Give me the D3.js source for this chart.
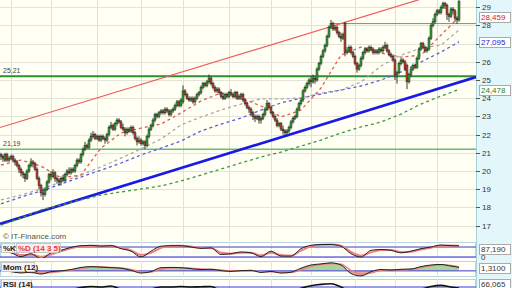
<!DOCTYPE html>
<html>
<head>
<meta charset="utf-8">
<script src="https://cdn.jsdelivr.net/npm/d3@7"></script>
<style>
  body { margin: 0; background: #fff; }
  svg { display: block; font-family: "Liberation Sans", Arial, sans-serif; }
</style>
</head>
<body>
<svg id="chart" width="512" height="288"></svg>
<script>
// ---------- daily candles (230 sessions) ----------
const opens = [
  20.9,20.8,20.6,20.9,20.6,20.7,20.8,20.6,20.5,20.3, 20.1,19.9,19.8,19.6,20.0,20.3,20.5,20.4,20.1,19.6,
  19.2,18.8,18.7,19.0,19.4,19.8,19.7,19.9,19.6,19.5, 19.4,19.6,19.5,19.8,20.0,19.9,20.1,20.0,20.3,20.6,
  20.5,20.9,21.2,21.4,21.3,21.7,21.9,22.0,21.8,21.9, 21.7,21.9,21.8,21.7,22.0,22.4,22.5,22.3,22.6,22.8,
  22.7,22.4,22.3,22.1,22.3,22.2,22.4,22.1,21.8,21.6, 21.7,21.5,21.6,21.4,21.9,22.3,22.5,22.8,23.1,23.0,
  23.2,23.3,23.2,23.4,23.3,23.1,23.3,23.4,23.6,23.8, 23.6,23.8,24.4,24.2,24.0,23.9,24.0,23.8,24.0,24.2,
  24.3,24.6,24.8,24.7,24.9,25.1,24.8,24.6,24.4,24.5, 24.3,24.1,24.0,24.2,24.1,24.3,24.2,24.1,24.3,24.0,
  24.1,24.2,23.9,23.7,23.5,23.4,23.2,23.0,22.9,23.0, 22.8,22.9,23.1,23.4,23.7,23.5,23.2,23.0,22.8,22.5,
  22.6,22.3,22.2,22.1,22.2,22.4,22.7,22.9,23.0,23.4, 23.7,23.9,24.4,24.6,24.8,25.0,24.9,25.1,25.0,25.6,
  25.9,26.3,26.6,26.9,27.4,27.9,28.1,27.8,27.9,27.6, 27.4,27.3,28.1,26.5,26.6,26.8,26.5,26.3,25.9,25.6,
  25.8,26.2,26.5,26.7,26.6,26.8,26.7,26.5,26.6,26.5, 26.7,26.6,26.8,26.9,26.6,26.4,26.3,26.1,25.3,25.4,
  25.9,26.1,26.0,25.8,24.9,25.3,25.6,25.8,25.7,26.2, 26.7,27.0,26.8,26.6,26.7,27.3,28.0,28.2,28.6,28.8,
  28.7,29.0,29.2,29.1,28.6,28.5,28.9,28.8,28.4,28.3
];
const highs = [
  21.0,20.9,21.0,21.0,20.8,20.9,20.9,20.7,20.6,20.4, 20.2,20.0,19.9,20.1,20.4,20.7,20.6,20.5,20.2,19.7,
  19.3,19.0,19.1,19.5,19.9,20.0,20.1,20.0,19.7,19.6, 19.7,19.8,19.9,20.1,20.2,20.2,20.2,20.4,20.7,20.7,
  21.0,21.3,21.6,21.5,21.8,22.1,22.2,22.1,22.0,22.0, 22.0,22.0,21.9,22.1,22.5,22.7,22.6,22.7,22.9,22.9,
  22.8,22.6,22.4,22.4,22.4,22.5,22.5,22.2,21.9,21.9, 21.8,21.7,21.7,22.0,22.4,22.6,22.9,23.2,23.2,23.3,
  23.4,23.4,23.5,23.5,23.4,23.4,23.5,23.7,23.9,23.9, 24.0,24.7,24.5,24.3,24.1,24.1,24.1,24.1,24.3,24.4,
  24.7,24.9,24.9,25.0,25.3,25.2,24.9,24.7,24.6,24.6, 24.4,24.3,24.3,24.3,24.4,24.5,24.3,24.4,24.4,24.2,
  24.3,24.3,24.0,23.8,23.6,23.5,23.3,23.1,23.1,23.1, 23.0,23.2,23.5,23.9,23.8,23.6,23.3,23.1,22.9,22.7,
  22.7,22.5,22.3,22.3,22.5,22.8,23.0,23.1,23.5,23.8, 24.0,24.5,24.7,24.9,25.1,25.2,25.3,25.2,25.7,26.0,
  26.4,26.7,27.0,27.5,28.0,28.3,28.2,28.0,28.0,27.7, 27.6,27.6,28.2,26.8,26.9,26.9,26.6,26.4,26.0,25.9,
  26.3,26.6,26.8,26.8,26.9,26.9,26.8,26.7,26.7,26.8, 26.8,26.9,27.1,27.0,26.7,26.5,26.4,26.2,25.5,26.0,
  26.2,26.2,26.1,25.9,25.4,25.7,25.9,25.9,26.3,26.8, 27.1,27.1,26.9,26.8,27.4,28.1,28.4,28.7,28.9,28.9,
  29.1,29.3,29.3,29.2,28.7,29.0,29.0,28.9,28.5,29.4
];
const lows = [
  20.6,20.5,20.5,20.5,20.5,20.6,20.5,20.3,20.2,19.9, 19.7,19.6,19.4,19.5,19.9,20.2,20.2,20.0,19.5,19.0,
  18.6,18.4,18.6,18.9,19.3,19.5,19.6,19.4,19.3,19.2, 19.2,19.4,19.4,19.7,19.8,19.8,19.9,19.9,20.2,20.4,
  20.4,20.8,21.1,21.2,21.2,21.6,21.8,21.7,21.7,21.6, 21.6,21.7,21.5,21.6,21.9,22.3,22.2,22.2,22.5,22.6,
  22.3,22.2,21.9,22.0,22.1,22.1,22.0,21.7,21.4,21.5, 21.4,21.4,21.2,21.3,21.8,22.2,22.4,22.7,22.9,22.9,
  23.1,23.1,23.1,23.2,23.0,23.0,23.2,23.3,23.5,23.5, 23.5,23.7,24.1,23.9,23.8,23.8,23.7,23.7,23.9,24.1,
  24.2,24.5,24.6,24.6,24.8,24.7,24.5,24.3,24.3,24.2, 24.0,23.9,23.9,24.0,24.0,24.1,24.0,24.0,23.9,23.9,
  23.9,23.8,23.6,23.4,23.2,23.0,22.8,22.7,22.8,22.6, 22.6,22.8,23.0,23.3,23.4,23.1,22.9,22.7,22.4,22.4,
  22.2,22.0,21.9,22.0,22.1,22.3,22.6,22.8,22.9,23.3, 23.6,23.8,24.3,24.5,24.7,24.6,24.8,24.8,24.9,25.5,
  25.8,26.2,26.5,26.8,27.3,27.8,27.7,27.7,27.5,27.3, 27.1,27.2,26.3,26.4,26.5,26.4,26.2,25.8,25.4,25.5,
  25.7,26.1,26.4,26.5,26.5,26.6,26.4,26.4,26.4,26.4, 26.5,26.5,26.7,26.5,26.3,26.2,26.0,25.0,24.8,25.3,
  25.8,25.9,25.5,24.5,24.8,25.2,25.5,25.6,25.6,26.1, 26.6,26.7,26.5,26.5,26.6,27.2,27.9,28.1,28.5,28.6,
  28.6,28.9,28.9,28.3,28.2,28.4,28.6,28.2,28.1,28.2
];
const closes = [
  20.8,20.7,20.9,20.6,20.7,20.8,20.6,20.5,20.3,20.1, 19.9,19.8,19.6,20.0,20.3,20.5,20.4,20.1,19.6,19.2,
  18.8,18.7,19.0,19.4,19.8,19.7,19.9,19.6,19.5,19.4, 19.6,19.5,19.8,20.0,19.9,20.1,20.0,20.3,20.6,20.5,
  20.9,21.2,21.4,21.3,21.7,21.9,22.0,21.8,21.9,21.7, 21.9,21.8,21.7,22.0,22.4,22.5,22.3,22.6,22.8,22.7,
  22.4,22.3,22.1,22.3,22.2,22.4,22.1,21.8,21.6,21.7, 21.5,21.6,21.4,21.9,22.3,22.5,22.8,23.1,23.0,23.2,
  23.3,23.2,23.4,23.3,23.1,23.3,23.4,23.6,23.8,23.6, 23.9,24.4,24.2,24.0,23.9,24.0,23.8,24.0,24.2,24.3,
  24.6,24.8,24.7,24.9,25.1,24.8,24.6,24.4,24.5,24.3, 24.1,24.0,24.2,24.1,24.3,24.2,24.1,24.3,24.0,24.1,
  24.2,23.9,23.7,23.5,23.4,23.2,23.0,22.9,23.0,22.8, 22.9,23.1,23.4,23.7,23.5,23.2,23.0,22.8,22.5,22.6,
  22.3,22.2,22.1,22.2,22.4,22.7,22.9,23.0,23.4,23.7, 23.9,24.4,24.6,24.8,25.0,24.9,25.1,25.0,25.6,25.9,
  26.3,26.6,26.9,27.4,27.9,28.1,27.8,27.9,27.6,27.4, 27.3,27.5,26.5,26.6,26.8,26.5,26.3,25.9,25.6,25.8,
  26.2,26.5,26.7,26.6,26.8,26.7,26.5,26.6,26.5,26.7, 26.6,26.8,26.9,26.6,26.4,26.3,26.1,25.3,25.4,25.9,
  26.1,26.0,25.6,24.9,25.3,25.6,25.8,25.7,26.2,26.7, 27.0,26.8,26.6,26.7,27.3,28.0,28.2,28.6,28.8,28.7,
  29.0,29.2,29.1,28.6,28.5,28.9,28.8,28.4,28.3,29.3
];

// session index of each month start (vertical grid)
const monthStarts = [5, 25, 48, 70, 91, 114, 135, 155, 177, 197, 218];

// moving averages, sampled every 10 sessions + last session
const maIdx = d3.range(0, 230, 10).concat([229]);
const maRed   = [20.33,20.60,20.27,19.62,19.78,21.26,22.09,22.36,22.58,23.19,23.85,24.29,24.01,23.57,22.97,23.35,24.56,26.37,26.81,26.48,26.26,26.37,27.47,28.459];
const maGrey  = [18.41,18.68,19.01,19.40,19.78,20.22,20.71,21.21,21.76,22.53,22.97,23.35,23.68,23.96,23.96,24.01,24.29,24.45,24.89,25.77,26.37,26.76,26.92,27.75];
const maBlue  = [18.19,18.57,18.90,19.29,19.67,20.05,20.44,20.88,21.26,21.65,22.20,22.58,22.91,23.35,23.74,24.01,24.23,24.45,24.67,25.00,25.44,25.99,26.54,27.095];
const maGreen = [17.03,17.42,17.86,18.13,18.41,18.68,18.85,19.01,19.18,19.45,19.78,20.11,20.44,20.77,21.04,21.37,21.70,22.09,22.42,22.69,23.13,23.68,24.12,24.478];

// trend lines and horizontal levels
const redTrend  = [[-0.5, 22.39], [237.5, 30.37]];
const blueTrend = [[-0.5, 17.09], [237.5, 25.16]];
const levels = [25.21, 21.19];
const resistance = {from: 165, value: 28.1};

// oscillators, sampled every 5 sessions + last session
const oscIdx = d3.range(0, 230, 5).concat([229]);
const stochK = [55,45,22,40,10,45,60,78,88,90,85,88,70,55,20,55,85,88,88,80,72,75,35,40,50,45,22,55,25,25,70,90,95,95,85,40,20,60,65,60,45,55,70,80,92,88,87.19];
const stochD = [58,50,32,33,22,35,55,72,85,88,87,87,75,60,32,45,75,87,88,83,75,74,45,40,45,45,30,45,32,28,58,85,93,95,88,50,28,48,62,62,50,52,65,76,88,89,88];
const mom    = [0.2,-0.3,-0.8,-0.5,-1.2,-0.3,0.0,0.5,1.3,1.6,1.4,1.2,1.0,0.2,-0.8,-0.3,1.2,1.3,1.2,0.8,0.5,0.6,0.1,-0.2,0.1,0.2,-0.6,-0.2,-0.8,-0.5,1.0,2.2,2.6,3.0,2.2,-1.0,-1.9,-0.3,0.5,0.3,0.6,0.7,1.6,2.2,2.4,1.8,1.31];
const momSig = [0.3,0.0,-0.5,-0.6,-0.9,-0.6,-0.2,0.3,1.0,1.4,1.5,1.3,1.1,0.5,-0.3,-0.4,0.7,1.2,1.2,1.0,0.7,0.6,0.3,0.0,0.0,0.1,-0.3,-0.3,-0.6,-0.6,0.4,1.7,2.4,2.8,2.5,0.2,-1.3,-0.8,0.2,0.4,0.4,0.6,1.3,1.9,2.3,2.0,1.5];
const rsi    = [50,48,40,48,35,50,52,60,68,72,70,74,62,60,48,62,70,70,72,70,71,72,58,60,55,45,40,52,38,45,65,75,80,82,70,52,48,58,60,58,48,55,62,72,76,70,66.065];

const priceTicks = d3.range(17, 30);

// ---------- layout ----------
const plotW = 476;
const mainH = 241;
const svg = d3.select('#chart');
const fmt = v => d3.format('.3f')(v).replace('.', ',');

const x = d3.scaleLinear().domain([-0.5, 237.5]).range([0, plotW]);
const y = d3.scaleLinear().domain([16.209, 29.396]).range([240, 0]);

// last values shown in boxes on the price axis
const maBoxes = [
  [maRed[maRed.length - 1], '#cc2222'],
  [maBlue[maBlue.length - 1], '#2222cc'],
  [maGreen[maGreen.length - 1], '#228822']
];

// right axis column
svg.append('rect').attr('x', plotW).attr('y', 0).attr('width', 512 - plotW).attr('height', 288).attr('fill', '#e3f7fb');

// main panel
svg.append('defs').append('clipPath').attr('id', 'clipMain')
  .append('rect').attr('x', 0).attr('y', 0).attr('width', plotW).attr('height', mainH);
svg.append('rect').attr('x', 0).attr('y', 0).attr('width', plotW).attr('height', mainH).attr('fill', '#fffff4');

const main = svg.append('g').attr('clip-path', 'url(#clipMain)');

// grid
main.append('g').selectAll('line').data(priceTicks).join('line')
  .attr('x1', 0).attr('x2', plotW)
  .attr('y1', d => Math.round(y(d)) + 0.5).attr('y2', d => Math.round(y(d)) + 0.5)
  .attr('stroke', '#e3e3d8');
main.append('g').selectAll('line').data(monthStarts).join('line')
  .attr('x1', d => Math.round(x(d)) + 0.5).attr('x2', d => Math.round(x(d)) + 0.5)
  .attr('y1', 0).attr('y2', mainH)
  .attr('stroke', '#e0e0d6');

// horizontal levels
main.append('line').attr('x1', 0).attr('x2', plotW)
  .attr('y1', y(levels[0])).attr('y2', y(levels[0]))
  .attr('stroke', '#2f8f2f').attr('stroke-width', 2);
main.append('line').attr('x1', 0).attr('x2', plotW)
  .attr('y1', y(levels[1])).attr('y2', y(levels[1]))
  .attr('stroke', '#6cbd6c').attr('stroke-width', 1.5);
main.append('line').attr('x1', x(resistance.from)).attr('x2', plotW)
  .attr('y1', y(resistance.value)).attr('y2', y(resistance.value))
  .attr('stroke', '#55aa55').attr('stroke-width', 1);
main.selectAll('text.lvl').data(levels).join('text')
  .attr('x', 3).attr('y', d => y(d) - 3)
  .attr('font-size', 7).attr('fill', '#444')
  .text(d => d3.format('.2f')(d).replace('.', ','));

// trend lines
const seg = d3.line().x(d => x(d[0])).y(d => y(d[1]));
main.append('path').attr('d', seg(redTrend)).attr('stroke', '#f05a5a').attr('stroke-width', 1.2).attr('fill', 'none');
main.append('path').attr('d', seg(blueTrend)).attr('stroke', '#1a1ae6').attr('stroke-width', 2.6).attr('fill', 'none');

// moving averages
const maLine = d3.line().x((d, k) => x(maIdx[k])).y(d => y(d));
[[maGreen, '#3f963f'], [maBlue, '#5a5ae0'], [maGrey, '#a8a8a8'], [maRed, '#e05a50']].forEach(([s, c]) => {
  main.append('path').attr('d', maLine(s)).attr('fill', 'none')
    .attr('stroke', c).attr('stroke-width', 1.3).attr('stroke-dasharray', '3,3');
});

// candles
const candles = closes.map((c, i) => ({i, o: opens[i], h: highs[i], l: lows[i], c}));
const gC = main.append('g');
gC.selectAll('line').data(candles).join('line')
  .attr('x1', d => x(d.i)).attr('x2', d => x(d.i))
  .attr('y1', d => y(d.h)).attr('y2', d => y(d.l))
  .attr('stroke', '#222').attr('stroke-width', 0.9);
gC.selectAll('rect').data(candles).join('rect')
  .attr('x', d => x(d.i) - 1).attr('width', 2)
  .attr('y', d => y(Math.max(d.o, d.c)))
  .attr('height', d => Math.max(0.8, Math.abs(y(d.o) - y(d.c))))
  .attr('fill', d => d.c >= d.o ? '#2ea82e' : '#c5402c')
  .attr('stroke', '#222').attr('stroke-width', 0.5);

// credit
svg.append('text').attr('x', 3).attr('y', 239).attr('font-size', 8).attr('fill', '#555').text('© IT-Finance.com');

// right price axis (labels hidden where a value box sits on top)
svg.append('line').attr('x1', plotW + 0.5).attr('x2', plotW + 0.5).attr('y1', 0).attr('y2', 288).attr('stroke', '#a8d2de');
const ax = svg.append('g');
ax.selectAll('line').data(priceTicks).join('line')
  .attr('x1', plotW).attr('x2', plotW + 4)
  .attr('y1', d => Math.round(y(d)) + 0.5).attr('y2', d => Math.round(y(d)) + 0.5)
  .attr('stroke', '#555');
ax.selectAll('text').data(priceTicks.filter(t => maBoxes.every(b => Math.abs(y(t) - y(b[0])) > 7))).join('text')
  .attr('x', plotW + 6).attr('y', d => y(d) + 3)
  .attr('font-size', 8).attr('fill', '#333').text(d => d);

function valueBox(cy, label, color) {
  svg.append('rect').attr('x', plotW + 3.5).attr('y', Math.round(cy - 5) + 0.5).attr('width', 31).attr('height', 10)
    .attr('fill', '#fff').attr('stroke', '#aaa');
  svg.append('text').attr('x', plotW + 5).attr('y', cy + 3).attr('font-size', 8).attr('fill', color).text(label);
}
maBoxes.forEach(b => valueBox(y(b[0]), fmt(b[0]), b[1]));

// ---------- indicator panels ----------
const panels = [
  {id: 'st', top: 242, bottom: 258},
  {id: 'mo', top: 261, bottom: 277},
  {id: 'rs', top: 279, bottom: 298}
];
const defs = svg.select('defs');
const pg = {};
panels.forEach(p => {
  defs.append('clipPath').attr('id', 'clip' + p.id)
    .append('rect').attr('x', 0).attr('y', p.top).attr('width', plotW).attr('height', p.bottom - p.top);
  svg.append('rect').attr('x', 0.5).attr('y', p.top + 0.5).attr('width', plotW - 1).attr('height', p.bottom - p.top - 1)
    .attr('fill', '#fffff6').attr('stroke', '#b9d4dc');
  const g = svg.append('g').attr('clip-path', 'url(#clip' + p.id + ')');
  g.selectAll('line').data(monthStarts).join('line')
    .attr('x1', d => Math.round(x(d)) + 0.5).attr('x2', d => Math.round(x(d)) + 0.5)
    .attr('y1', p.top).attr('y2', p.bottom).attr('stroke', '#e4e4dc');
  pg[p.id] = g;
});
const oscX = (d, k) => x(oscIdx[k]);

// stochastic
const ys = d3.scaleLinear().domain([0, 100]).range([260.3, 243.7]);
[80, 20].forEach(v => pg.st.append('line').attr('x1', 0).attr('x2', plotW).attr('y1', ys(v)).attr('y2', ys(v)).attr('stroke', '#3a3ad8'));
pg.st.append('path').attr('d', d3.line().x(oscX).y(d => ys(d)).curve(d3.curveMonotoneX)(stochD))
  .attr('fill', 'none').attr('stroke', '#f08080').attr('stroke-width', 2);
pg.st.append('path').attr('d', d3.line().x(oscX).y(d => ys(d)).curve(d3.curveMonotoneX)(stochK))
  .attr('fill', 'none').attr('stroke', '#222').attr('stroke-width', 1);

// momentum
const ym = d3.scaleLinear().domain([-2.3, 3.7]).range([277, 261]);
const z = ym(0);
defs.append('clipPath').attr('id', 'momUp').append('rect').attr('x', 0).attr('y', 0).attr('width', plotW).attr('height', z);
defs.append('clipPath').attr('id', 'momDn').append('rect').attr('x', 0).attr('y', z).attr('width', plotW).attr('height', 288 - z);
const momArea = d3.area().x(oscX).y0(z).y1(d => ym(d)).curve(d3.curveMonotoneX);
pg.mo.append('path').attr('d', momArea(mom)).attr('fill', '#a6d49a').attr('clip-path', 'url(#momUp)');
pg.mo.append('path').attr('d', momArea(mom)).attr('fill', '#e8a4a0').attr('clip-path', 'url(#momDn)');
pg.mo.append('line').attr('x1', 0).attr('x2', plotW).attr('y1', z).attr('y2', z).attr('stroke', '#3a3ad8');
pg.mo.append('path').attr('d', d3.line().x(oscX).y(d => ym(d)).curve(d3.curveMonotoneX)(momSig))
  .attr('fill', 'none').attr('stroke', '#f08080').attr('stroke-width', 1.5);
pg.mo.append('path').attr('d', d3.line().x(oscX).y(d => ym(d)).curve(d3.curveMonotoneX)(mom))
  .attr('fill', 'none').attr('stroke', '#222').attr('stroke-width', 1);

// RSI
const yr = d3.scaleLinear().domain([0, 100]).range([305.7, 279]);
[70, 30].forEach(v => pg.rs.append('line').attr('x1', 0).attr('x2', plotW).attr('y1', yr(v)).attr('y2', yr(v)).attr('stroke', '#3a3ad8'));
pg.rs.append('path').attr('d', d3.line().x(oscX).y(d => yr(d)).curve(d3.curveMonotoneX)(rsi))
  .attr('fill', 'none').attr('stroke', '#111').attr('stroke-width', 1.6);

// panel labels
function tag(x0, top, w, label, color, bg) {
  svg.append('rect').attr('x', x0 + 0.5).attr('y', top + 1.5).attr('width', w).attr('height', 9)
    .attr('fill', bg).attr('stroke', '#c8c8c8');
  svg.append('text').attr('x', x0 + 2).attr('y', top + 9).attr('font-size', 8).attr('font-weight', 'bold')
    .attr('fill', color).text(label);
}
tag(1, 242, 13, '%K', '#222', '#f4f4f4');
tag(16, 242, 44, '%D (14 3 5)', '#e04040', '#fbeaea');
tag(1, 261, 33, 'Mom (12)', '#222', '#f4f4f4');
tag(1, 278, 30, 'RSI (14)', '#222', '#f4f4f4');

// right-hand indicator values
const clampBox = (v, p) => Math.max(p.top + 7, Math.min(p.bottom - 7, v));
valueBox(clampBox(ys(stochK[stochK.length - 1]), panels[0]), fmt(stochK[stochK.length - 1]), '#333');
svg.append('text').attr('x', plotW + 5).attr('y', 260).attr('font-size', 8).attr('fill', '#333').text('0');
valueBox(clampBox(ym(mom[mom.length - 1]), panels[1]), d3.format('.4f')(mom[mom.length - 1]).replace('.', ','), '#333');
valueBox(Math.min(284, clampBox(yr(rsi[rsi.length - 1]), panels[2])), fmt(rsi[rsi.length - 1]), '#333');
</script>
</body>
</html>
